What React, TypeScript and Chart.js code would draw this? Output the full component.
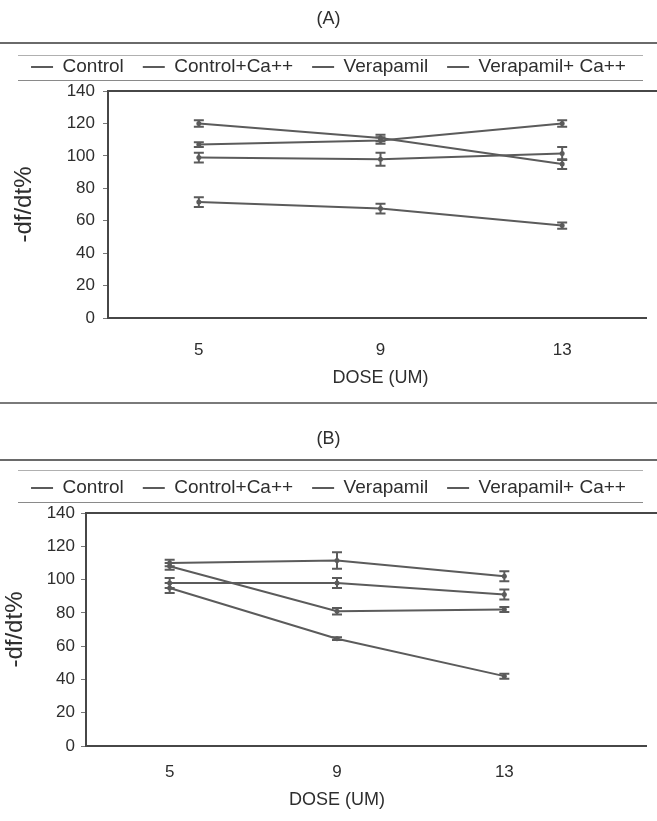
import React, { useEffect, useRef } from "react";
import { Chart, registerables } from "chart.js";

Chart.register(...registerables);

// ---------- data ----------
const doseLabels = ["5", "9", "13"];
const seriesNames = ["Control", "Control+Ca++", "Verapamil", "Verapamil+ Ca++"];
const yMin = 0;
const yMax = 140;
const yStep = 20;

// Panel (A)
const aControl = [99, 98, 101.5];
const aControlErr = [3, 4, 4];
const aControlCa = [107, 109.5, 120];
const aControlCaErr = [1.5, 2, 2];
const aVerapamil = [71.5, 67.5, 57];
const aVerapamilErr = [3, 3, 2];
const aVerapamilCa = [120, 111, 95];
const aVerapamilCaErr = [2, 2, 3];

// Panel (B)
const bControl = [98, 98, 91];
const bControlErr = [3, 3, 3];
const bControlCa = [110, 111.5, 102];
const bControlCaErr = [2, 5, 3];
const bVerapamil = [95, 64.5, 42];
const bVerapamilErr = [3, 0.8, 1.5];
const bVerapamilCa = [108, 81, 82];
const bVerapamilCaErr = [2, 2, 1.5];

// ---------- styling ----------
const FONT = "'Liberation Sans', Arial, Helvetica, sans-serif";
const LINE = "#5b5b5b";
const TEXT = "#2e2e2e";

const errorBarPlugin = {
  id: "errorBars",
  afterDatasetsDraw(chart: any) {
    const { ctx } = chart;
    const yScale = chart.scales.y;
    chart.data.datasets.forEach((ds: any, di: number) => {
      const errs = ds.errors;
      if (!errs) return;
      const meta = chart.getDatasetMeta(di);
      meta.data.forEach((pt: any, i: number) => {
        const v = ds.data[i];
        const e = errs[i];
        const x = pt.x;
        const yt = yScale.getPixelForValue(v + e);
        const yb = yScale.getPixelForValue(v - e);
        ctx.save();
        ctx.strokeStyle = LINE;
        ctx.lineWidth = 2;
        ctx.beginPath();
        ctx.moveTo(x, yt);
        ctx.lineTo(x, yb);
        ctx.moveTo(x - 5, yt);
        ctx.lineTo(x + 5, yt);
        ctx.moveTo(x - 5, yb);
        ctx.lineTo(x + 5, yb);
        ctx.stroke();
        ctx.restore();
      });
    });
  },
};

const framePlugin = {
  id: "frame",
  beforeDatasetsDraw(chart: any) {
    const { ctx, chartArea: a } = chart;
    ctx.save();
    ctx.strokeStyle = "#474747";
    ctx.lineWidth = 2;
    ctx.beginPath();
    ctx.moveTo(chart.width, a.top);
    ctx.lineTo(a.left, a.top);
    ctx.lineTo(a.left, a.bottom);
    ctx.lineTo(chart.width - 10, a.bottom);
    ctx.stroke();
    ctx.restore();
  },
};

type Geo = {
  titlePadTop: number;
  titlePadBottom: number;
  legendPad: number;
  padTop: number;
  padRight: number;
  yAxisWidth: number;
  yTickPad: number;
  yTitlePad: number;
  xAxisHeight: number;
  xTickPad: number;
  xTitlePad: number;
};

function makeConfig(
  title: string,
  values: number[][],
  errors: number[][],
  g: Geo
): any {
  const datasets = seriesNames.map((name, i) => ({
    label: name,
    data: values[i],
    errors: errors[i],
    borderColor: LINE,
    backgroundColor: LINE,
    borderWidth: 2,
    pointRadius: 2.5,
    pointBackgroundColor: LINE,
    pointBorderColor: LINE,
    pointBorderWidth: 0,
    tension: 0,
  }));
  return {
    type: "line",
    data: { labels: doseLabels, datasets },
    plugins: [framePlugin, errorBarPlugin],
    options: {
      animation: false,
      responsive: false,
      layout: { padding: 0 },
      plugins: {
        title: {
          display: true,
          text: title,
          color: TEXT,
          font: { family: FONT, size: 18, weight: "normal" },
          padding: { top: g.titlePadTop, bottom: g.titlePadBottom },
        },
        legend: {
          display: true,
          position: "top",
          labels: {
            color: TEXT,
            font: { family: FONT, size: 19 },
            usePointStyle: true,
            pointStyleWidth: 22,
            padding: g.legendPad,
            generateLabels: (chart: any) =>
              chart.data.datasets.map((ds: any, i: number) => ({
                text: ds.label,
                fillStyle: LINE,
                strokeStyle: LINE,
                lineWidth: 2,
                pointStyle: "line",
                hidden: false,
                datasetIndex: i,
                fontColor: TEXT,
              })),
          },
        },
        tooltip: { enabled: false },
      },
      scales: {
        x: {
          type: "category",
          position: "bottom",
          offset: true,
          grid: { display: false, drawTicks: false },
          border: { display: false },
          ticks: {
            color: TEXT,
            font: { family: FONT, size: 17 },
            padding: g.xTickPad,
          },
          title: {
            display: true,
            text: "DOSE (UM)",
            color: TEXT,
            font: { family: FONT, size: 18 },
            padding: { top: 0, bottom: g.xTitlePad },
          },
          afterFit: (s: any) => {
            s.height = g.xAxisHeight;
          },
        },
        y: {
          type: "linear",
          position: "left",
          min: yMin,
          max: yMax,
          ticks: {
            stepSize: yStep,
            color: TEXT,
            font: { family: FONT, size: 17 },
            padding: g.yTickPad,
          },
          grid: {
            display: true,
            drawOnChartArea: false,
            drawTicks: true,
            tickLength: 5,
            color: "#777",
            lineWidth: 1,
          },
          border: { display: false },
          title: {
            display: true,
            text: "-df/dt%",
            color: TEXT,
            font: { family: FONT, size: 24 },
            padding: { top: g.yTitlePad, bottom: 0 },
          },
          afterFit: (s: any) => {
            s.width = g.yAxisWidth;
          },
        },
        padTop: {
          type: "category",
          position: "top",
          display: true,
          grid: { display: false },
          border: { display: false },
          ticks: { display: false },
          afterFit: (s: any) => {
            s.height = g.padTop;
          },
        },
        padRight: {
          type: "linear",
          position: "right",
          display: true,
          grid: { display: false },
          border: { display: false },
          ticks: { display: false },
          afterFit: (s: any) => {
            s.width = g.padRight;
          },
        },
      },
    },
  };
}

function Panel(props: {
  top: number;
  height: number;
  title: string;
  values: number[][];
  errors: number[][];
  geo: Geo;
}) {
  const ref = useRef<HTMLCanvasElement | null>(null);
  useEffect(() => {
    if (!ref.current) return;
    const chart = new Chart(
      ref.current,
      makeConfig(props.title, props.values, props.errors, props.geo)
    );
    return () => chart.destroy();
  }, []);
  return (
    <canvas
      ref={ref}
      width={657}
      height={props.height}
      style={{
        position: "absolute",
        left: 0,
        top: props.top,
        width: 657,
        height: props.height,
      }}
    />
  );
}

const rule = (top: number, left: number, width: number, color: string, h = 1) => (
  <div
    key={`${top}-${left}`}
    style={{
      position: "absolute",
      top,
      left,
      width,
      height: h,
      background: color,
    }}
  />
);

export default function App() {
  const geoA: Geo = {
    titlePadTop: 8,
    titlePadBottom: 9,
    legendPad: 19,
    padTop: 4.5,
    padRight: 0,
    yAxisWidth: 108,
    yTickPad: 8,
    yTitlePad: 10,
    xAxisHeight: 82,
    xTickPad: 22,
    xTitlePad: 11,
  };
  const geoB: Geo = {
    titlePadTop: 28,
    titlePadBottom: 10,
    legendPad: 19,
    padTop: 5.5,
    padRight: 69,
    yAxisWidth: 86,
    yTickPad: 6,
    yTitlePad: 1,
    xAxisHeight: 75,
    xTickPad: 16,
    xTitlePad: 10,
  };
  return (
    <div
      style={{
        position: "absolute",
        left: 0,
        top: 0,
        width: 657,
        height: 821,
        background: "#ffffff",
        overflow: "hidden",
      }}
    >
      <Panel
        top={0}
        height={400}
        title="(A)"
        values={[aControl, aControlCa, aVerapamil, aVerapamilCa]}
        errors={[aControlErr, aControlCaErr, aVerapamilErr, aVerapamilCaErr]}
        geo={geoA}
      />
      <Panel
        top={400}
        height={421}
        title="(B)"
        values={[bControl, bControlCa, bVerapamil, bVerapamilCa]}
        errors={[bControlErr, bControlCaErr, bVerapamilErr, bVerapamilCaErr]}
        geo={geoB}
      />
      {rule(42, 0, 657, "#6a6a6a", 2)}
      {rule(55, 18, 625, "#b0b0b0", 1)}
      {rule(80, 18, 625, "#8a8a8a", 1)}
      {rule(402, 0, 657, "#7a7a7a", 2)}
      {rule(459, 0, 657, "#6a6a6a", 2)}
      {rule(470, 18, 625, "#b0b0b0", 1)}
      {rule(502, 18, 625, "#8a8a8a", 1)}
    </div>
  );
}
